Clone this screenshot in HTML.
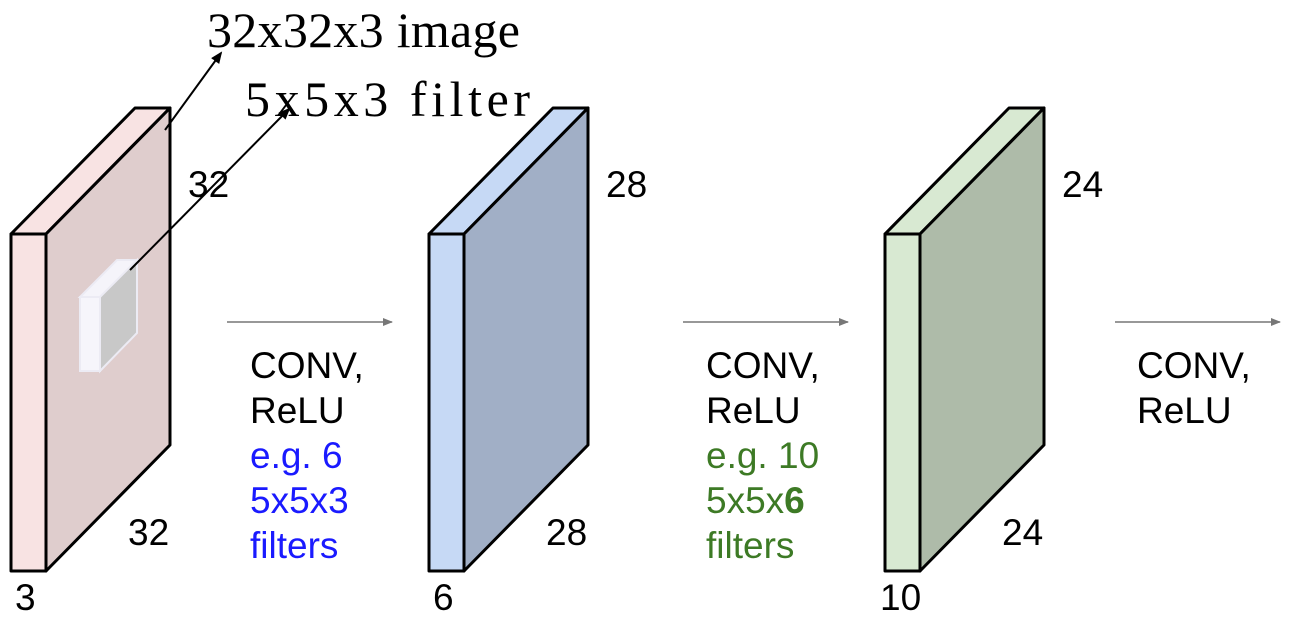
<!DOCTYPE html>
<html><head><meta charset="utf-8"><style>
html,body{margin:0;padding:0;background:#fff;}
svg{display:block;}
.s{font-family:"Liberation Sans",sans-serif;font-size:37px;}
.m{font-family:"Liberation Serif","Noto Serif CJK SC",serif;font-size:50px;}
</style></head><body>
<svg width="1298" height="626" viewBox="0 0 1298 626">
<defs>
<marker id="ag" markerWidth="10" markerHeight="8" refX="9" refY="4" orient="auto" markerUnits="userSpaceOnUse"><path d="M0,0 L10,4 L0,8 z" fill="#777"/></marker>
<marker id="ab" markerWidth="12" markerHeight="10" refX="10" refY="5" orient="auto" markerUnits="userSpaceOnUse"><path d="M0,0 L12,5 L0,10 z" fill="#000"/></marker>
</defs>
<g id="blocks"></g>
<g>
<polygon points="80,297 117,260 137,260 100,297" fill="#f5f4fa" stroke="#ecebf4" stroke-width="2"/>
<polygon points="100,297 137,260 137,333 100,371" fill="#c8c8c8" stroke="#ecebf4" stroke-width="2"/>
<rect x="80" y="297" width="20" height="74" fill="#f6f5fb" stroke="#ecebf4" stroke-width="2"/>
</g>
<line x1="165" y1="130" x2="221" y2="53" stroke="#000" stroke-width="2" marker-end="url(#ab)"/>
<line x1="130" y1="270" x2="289" y2="109" stroke="#000" stroke-width="2" marker-end="url(#ab)"/>
<text class="m" x="207" y="47" textLength="313" lengthAdjust="spacing">32x32x3 image</text>
<text class="m" x="245" y="116" textLength="285" lengthAdjust="spacing">5x5x3 filter</text>

<g>
<line x1="227" y1="322" x2="392" y2="322" stroke="#777" stroke-width="1.5" marker-end="url(#ag)"/>
<text class="s" x="250" y="378">CONV,</text>
<text class="s" x="250" y="423">ReLU</text>
<text class="s" x="250" y="468" fill="#1a1aff">e.g. 6</text>
<text class="s" x="250" y="513" fill="#1a1aff">5x5x3</text>
<text class="s" x="250" y="558" fill="#1a1aff">filters</text>
</g>
<g>
<line x1="683" y1="322" x2="848" y2="322" stroke="#777" stroke-width="1.5" marker-end="url(#ag)"/>
<text class="s" x="706" y="378">CONV,</text>
<text class="s" x="706" y="423">ReLU</text>
<text class="s" x="706" y="468" fill="#3d7a25">e.g. 10</text>
<text class="s" x="706" y="513" fill="#3d7a25">5x5x<tspan font-weight="bold">6</tspan></text>
<text class="s" x="706" y="558" fill="#3d7a25">filters</text>
</g>
<g>
<line x1="1115" y1="322" x2="1280" y2="322" stroke="#777" stroke-width="1.5" marker-end="url(#ag)"/>
<text class="s" x="1137" y="378">CONV,</text>
<text class="s" x="1137" y="423">ReLU</text>
</g>
</svg>
<script>
const blockNames=['input-volume','conv1-volume','conv2-volume'];
const blockX=[11,429,885];
const sizes=['32','28','24'];
const depths=['3','6','10'];
const fronts=['#f8e3e3','#c6d9f5','#d8e9d2'];
const sides=['#dfcdcd','#a1afc6','#aebba9'];
{
const g=document.getElementById('blocks');
const NS='http://www.w3.org/2000/svg';
const yTop=234,yBot=571,w=35,dx=124,dy=-126;
blockX.forEach((x,i)=>{
  const grp=document.createElementNS(NS,'g');
  
  
  const mk=(pts,fill)=>{const p=document.createElementNS(NS,'polygon');p.setAttribute('points',pts);p.setAttribute('fill',fill);p.setAttribute('stroke','#000');p.setAttribute('stroke-width','3');p.setAttribute('stroke-linejoin','round');grp.appendChild(p);};
  mk(`${x},${yTop} ${x+dx},${yTop+dy} ${x+w+dx},${yTop+dy} ${x+w},${yTop}`,fronts[i]);
  mk(`${x+w},${yTop} ${x+w+dx},${yTop+dy} ${x+w+dx},${yBot+dy} ${x+w},${yBot}`,sides[i]);
  mk(`${x},${yTop} ${x+w},${yTop} ${x+w},${yBot} ${x},${yBot}`,fronts[i]);
  const t=(tx,ty,s,n)=>{const e=document.createElementNS(NS,'text');e.setAttribute('x',tx);e.setAttribute('y',ty);e.setAttribute('class','s');e.textContent=s;
    
    
    grp.appendChild(e);};
  t(x+w+dx+18,197,sizes[i],'height-label');
  t(x+w+82,545,sizes[i],'width-label');
  t(x+(i==2?-5:4),610,depths[i],'depth-label');
  g.appendChild(grp);
});
}
</script>
</body></html>
